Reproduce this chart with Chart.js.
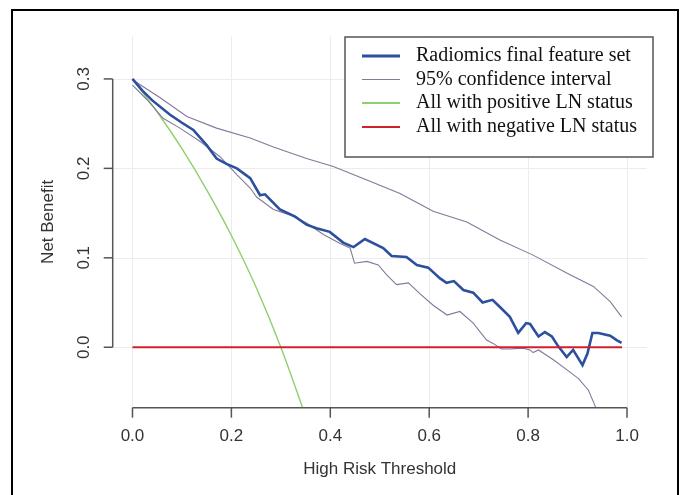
<!DOCTYPE html>
<html>
<head>
<meta charset="utf-8">
<script src="https://cdn.jsdelivr.net/npm/chart.js@4.4.1/dist/chart.umd.min.js"></script>
<style>
    body { margin: 0; background: #ffffff; }
    canvas { display: block; }
</style>
</head>
<body>
<canvas id="chart" width="681" height="495"></canvas>
<script>
// decision curve data
var modelX = [0, 0.02, 0.04, 0.076, 0.10, 0.123, 0.15, 0.170, 0.19, 0.211, 0.238, 0.258, 0.268, 0.298, 0.329, 0.352, 0.372, 0.399, 0.426, 0.447, 0.470, 0.507, 0.524, 0.554, 0.575, 0.598, 0.622, 0.635, 0.650, 0.669, 0.689, 0.708, 0.728, 0.743, 0.763, 0.780, 0.796, 0.804, 0.821, 0.834, 0.848, 0.861, 0.878, 0.891, 0.910, 0.920, 0.930, 0.942, 0.966, 0.979, 0.989];
var modelY = [0.300, 0.287, 0.276, 0.260, 0.251, 0.243, 0.226, 0.211, 0.205, 0.200, 0.189, 0.170, 0.171, 0.154, 0.146, 0.137, 0.133, 0.129, 0.117, 0.112, 0.121, 0.111, 0.102, 0.101, 0.092, 0.089, 0.077, 0.072, 0.074, 0.064, 0.061, 0.050, 0.053, 0.045, 0.034, 0.016, 0.027, 0.026, 0.012, 0.017, 0.012, 0.001, -0.011, -0.003, -0.020, -0.007, 0.016, 0.016, 0.013, 0.008, 0.005];

var upperX = [0, 0.056, 0.110, 0.170, 0.238, 0.285, 0.352, 0.406, 0.474, 0.541, 0.608, 0.676, 0.743, 0.810, 0.878, 0.932, 0.966, 0.989];
var upperY = [0.299, 0.279, 0.258, 0.245, 0.234, 0.224, 0.211, 0.202, 0.187, 0.172, 0.152, 0.140, 0.120, 0.103, 0.083, 0.068, 0.051, 0.034];

var lowerX = [0, 0.029, 0.062, 0.096, 0.137, 0.177, 0.211, 0.238, 0.251, 0.285, 0.318, 0.352, 0.386, 0.420, 0.440, 0.449, 0.474, 0.497, 0.514, 0.534, 0.558, 0.581, 0.608, 0.636, 0.662, 0.689, 0.716, 0.730, 0.746, 0.764, 0.790, 0.804, 0.810, 0.821, 0.851, 0.878, 0.902, 0.922, 0.935, 0.945];
var lowerY = [0.293, 0.277, 0.256, 0.245, 0.230, 0.213, 0.193, 0.178, 0.168, 0.154, 0.148, 0.139, 0.126, 0.116, 0.111, 0.094, 0.096, 0.092, 0.081, 0.070, 0.072, 0.060, 0.047, 0.036, 0.040, 0.027, 0.008, 0.004, -0.002, -0.002, -0.001, -0.003, -0.006, -0.003, -0.014, -0.025, -0.035, -0.048, -0.065, -0.080];

var allX = [0, 0.05, 0.10, 0.15, 0.20, 0.25, 0.30, 0.35];
var allY = [0.300, 0.263, 0.222, 0.176, 0.125, 0.067, 0.000, -0.077];

var noneX = [0, 0.99];
var noneY = [0, 0];

var xTicks = [0, 0.2, 0.4, 0.6, 0.8, 1.0];
var yTicks = [0, 0.1, 0.2, 0.3];

var legendLabels = ['Radiomics final feature set', '95% confidence interval', 'All with positive LN status', 'All with negative LN status'];
var legendColors = ['#2c4f9e', '#84789c', '#8fcf6c', '#d0202e'];
var legendWidths = [3, 1, 2, 2];

function pts(xs, ys) {
    var out = [];
    for (var i = 0; i < xs.length; i++) out.push({ x: xs[i], y: ys[i] });
    return out;
}

// R style axes, grid, labels, legend and frame
var rStyle = {
    id: 'rStyle',
    beforeDatasetsDraw: function (chart) {
        var ctx = chart.ctx, a = chart.chartArea;
        var xs = chart.scales.x, ys = chart.scales.y;
        ctx.save();
        ctx.strokeStyle = '#ececec';
        ctx.lineWidth = 1;
        xTicks.forEach(function (v) {
            var px = Math.round(xs.getPixelForValue(v)) + 0.5;
            ctx.beginPath(); ctx.moveTo(px, a.top); ctx.lineTo(px, a.bottom); ctx.stroke();
        });
        yTicks.forEach(function (v) {
            var py = Math.round(ys.getPixelForValue(v)) + 0.5;
            ctx.beginPath(); ctx.moveTo(a.left, py); ctx.lineTo(a.right, py); ctx.stroke();
        });
        ctx.restore();
    },
    afterDraw: function (chart) {
        var ctx = chart.ctx, a = chart.chartArea;
        var xs = chart.scales.x, ys = chart.scales.y;
        ctx.save();

        // axes
        ctx.strokeStyle = '#555555';
        ctx.lineWidth = 1.5;
        var x0 = xs.getPixelForValue(xTicks[0]), x1 = xs.getPixelForValue(xTicks[xTicks.length - 1]);
        ctx.beginPath(); ctx.moveTo(x0, a.bottom); ctx.lineTo(x1, a.bottom); ctx.stroke();
        xTicks.forEach(function (v) {
            var px = xs.getPixelForValue(v);
            ctx.beginPath(); ctx.moveTo(px, a.bottom); ctx.lineTo(px, a.bottom + 10); ctx.stroke();
        });
        var y0 = ys.getPixelForValue(yTicks[0]), y1 = ys.getPixelForValue(yTicks[yTicks.length - 1]);
        ctx.beginPath(); ctx.moveTo(a.left, y0); ctx.lineTo(a.left, y1); ctx.stroke();
        yTicks.forEach(function (v) {
            var py = ys.getPixelForValue(v);
            ctx.beginPath(); ctx.moveTo(a.left, py); ctx.lineTo(a.left - 9, py); ctx.stroke();
        });

        // tick labels and titles
        ctx.fillStyle = '#333333';
        ctx.font = '17px "Liberation Sans", Arial, sans-serif';
        ctx.textAlign = 'center';
        ctx.textBaseline = 'middle';
        xTicks.forEach(function (v) {
            ctx.fillText(v.toFixed(1), xs.getPixelForValue(v), 436);
        });
        ctx.fillText('High Risk Threshold', (a.left + a.right) / 2, 469);
        yTicks.forEach(function (v) {
            ctx.save();
            ctx.translate(84, ys.getPixelForValue(v));
            ctx.rotate(-Math.PI / 2);
            ctx.fillText(v.toFixed(1), 0, 0);
            ctx.restore();
        });
        ctx.save();
        ctx.translate(48, (a.top + a.bottom) / 2);
        ctx.rotate(-Math.PI / 2);
        ctx.fillText('Net Benefit', 0, 0);
        ctx.restore();

        // legend
        ctx.fillStyle = '#ffffff';
        ctx.fillRect(345, 37, 308, 120);
        ctx.strokeStyle = '#555555';
        ctx.lineWidth = 1.5;
        ctx.strokeRect(345, 37, 308, 120);
        ctx.font = '20px "Liberation Serif", "Times New Roman", serif';
        ctx.textAlign = 'left';
        ctx.fillStyle = '#111111';
        var rows = [56, 79.5, 103, 127];
        legendLabels.forEach(function (lab, i) {
            ctx.strokeStyle = legendColors[i];
            ctx.lineWidth = legendWidths[i];
            ctx.beginPath(); ctx.moveTo(362, rows[i]); ctx.lineTo(400, rows[i]); ctx.stroke();
            ctx.fillText(lab, 416, rows[i]);
        });

        // outer frame
        ctx.strokeStyle = '#000000';
        ctx.lineWidth = 2;
        ctx.beginPath();
        ctx.moveTo(12, 495); ctx.lineTo(12, 10); ctx.lineTo(678, 10); ctx.lineTo(678, 495);
        ctx.stroke();
        ctx.restore();
    }
};

var chart = new Chart(
    document.getElementById('chart'),
    {
        type: 'line',
        data: {
            datasets: [{
                label: legendLabels[3],
                data: pts(noneX, noneY),
                borderColor: legendColors[3],
                borderWidth: 1.8,
                order: 0
            },
            {
                label: legendLabels[0],
                data: pts(modelX, modelY),
                borderColor: legendColors[0],
                borderWidth: 2.6,
                order: 1
            },
            {
                label: legendLabels[1],
                data: pts(upperX, upperY),
                borderColor: legendColors[1],
                borderWidth: 1.1,
                order: 2
            },
            {
                label: legendLabels[1],
                data: pts(lowerX, lowerY),
                borderColor: legendColors[1],
                borderWidth: 1.1,
                order: 2
            },
            {
                label: legendLabels[2],
                data: pts(allX, allY),
                borderColor: legendColors[2],
                borderWidth: 1.4,
                cubicInterpolationMode: 'monotone',
                order: 3
            }]
        },
        options: {
            responsive: false,
            animation: false,
            layout: {
                padding: { left: 112.7, top: 36, right: 34.2, bottom: 87.3 }
            },
            elements: {
                point: { radius: 0 },
                line: { tension: 0, fill: false }
            },
            scales: {
                x: { type: 'linear', min: -0.04, max: 1.04, display: false },
                y: { type: 'linear', min: -0.0676, max: 0.348, display: false }
            },
            plugins: {
                legend: { display: false },
                tooltip: { enabled: false }
            }
        },
        plugins: [rStyle]
    }
);
</script>
</body>
</html>
